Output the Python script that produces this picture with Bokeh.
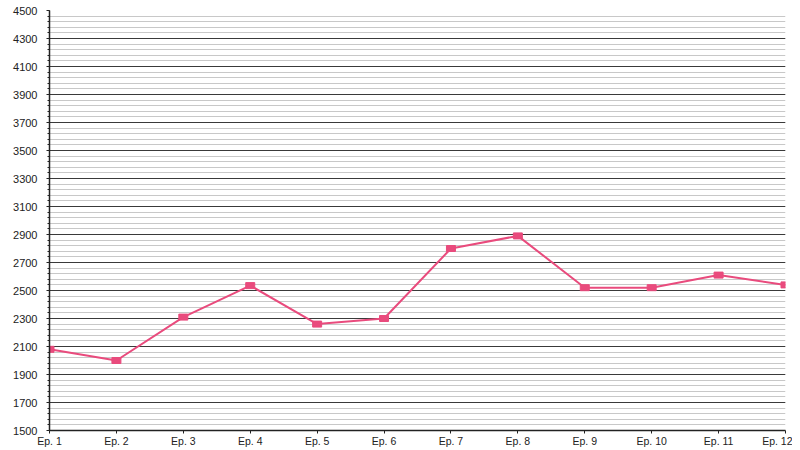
from bokeh.plotting import figure
from bokeh.models import FixedTicker, Range1d
from bokeh.embed import file_html
from bokeh.resources import INLINE

categories = ["Ep. 1", "Ep. 2", "Ep. 3", "Ep. 4", "Ep. 5", "Ep. 6",
              "Ep. 7", "Ep. 8", "Ep. 9", "Ep. 10", "Ep. 11", "Ep. 12"]
values = [2080, 2000, 2310, 2535, 2260, 2300, 2800, 2890, 2520, 2520, 2610, 2540]
y_ticks = list(range(1500, 4501, 200))
y_minor = list(range(1500, 4501, 40))

xs = list(range(len(categories)))

p = figure(width=792, height=449, output_backend="svg", toolbar_location=None,
           x_range=Range1d(0, len(categories) - 1), y_range=Range1d(1500, 4500),
           min_border_left=49, min_border_right=7, min_border_top=10, min_border_bottom=17)
p.outline_line_color = None
p.background_fill_color = "white"

color = "#E94B7D"
p.line(xs, values, line_color=color, line_width=2)
p.rect(xs, values, width=9, height=6, width_units="screen", height_units="screen",
       fill_color=color, line_color=color)

p.xaxis.ticker = FixedTicker(ticks=xs)
p.xaxis.major_label_overrides = {i: c for i, c in zip(xs, categories)}
p.yaxis.ticker = FixedTicker(ticks=y_ticks, minor_ticks=y_minor)

for ax in (p.xaxis[0], p.yaxis[0]):
    ax.axis_line_color = "#222222"
    ax.axis_line_width = 1.5
    ax.major_tick_line_color = "#222222"
    ax.major_tick_in = 0
    ax.major_tick_out = 3
    ax.major_label_text_font = "Liberation Sans"
    ax.major_label_text_font_size = "10.5px"
    ax.major_label_text_color = "#222222"
p.yaxis.major_label_standoff = 9
p.yaxis.major_label_text_font_size = "11px"
p.xaxis.major_label_standoff = 1
p.xaxis.minor_tick_line_color = None
p.yaxis.minor_tick_line_color = "#222222"
p.yaxis.minor_tick_in = 0
p.yaxis.minor_tick_out = 2

p.xgrid.grid_line_color = None
p.ygrid.grid_line_color = "#3a3a3a"
p.ygrid.grid_line_width = 1
p.ygrid.minor_grid_line_color = "#c8c8c8"
p.ygrid.minor_grid_line_width = 1

open("out.html", "w").write(file_html(p, INLINE))
